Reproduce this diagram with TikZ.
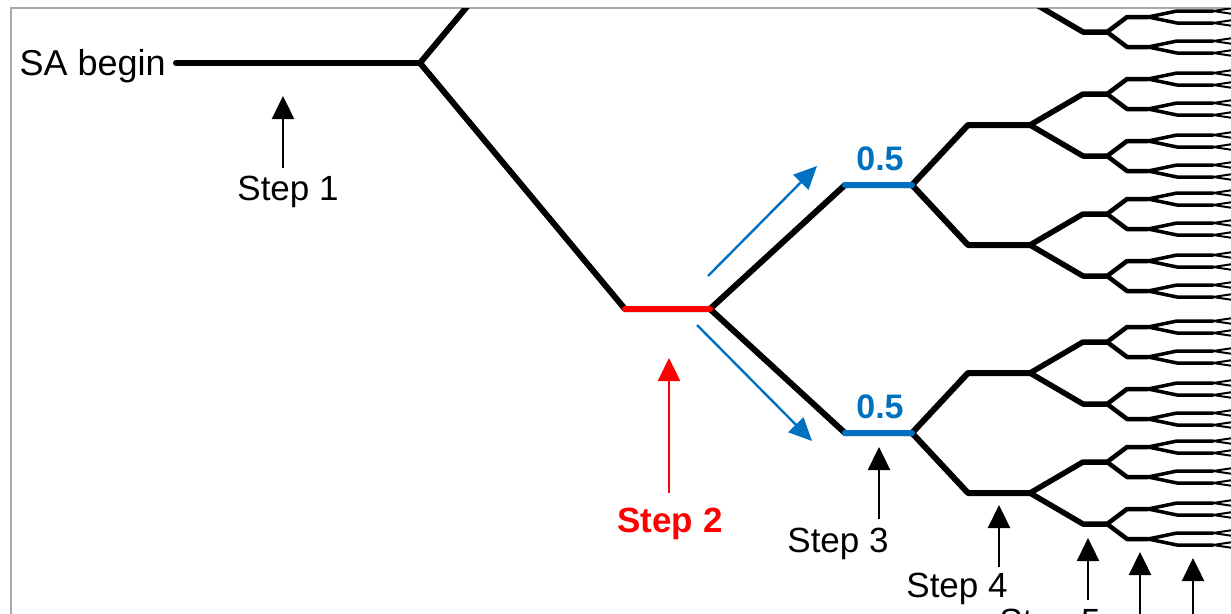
\documentclass[tikz,border=0pt]{standalone}
\usepackage{fontspec}
\setmainfont{Liberation Sans}
\usetikzlibrary{arrows.meta}

\definecolor{saBlue}{RGB}{0,112,192}
\definecolor{frameGray}{RGB}{170,170,170}

% per level: start and end of the flat part, spread of the fork, line width
\def\treexa{{176,625,845,968,1083,1127,1177,1233}}
\def\treexb{{420,710,912,1030,1107,1148,1213,1262}}
\def\treedy{{246,124,60,31,15,6,3,1.5}}
\def\treelw{{6,6,6,6,5.5,4.5,3.5,2}}

% #1 level, #2 y of this branch, #3 y of the parent fork
\newcommand\treenode[3]{%
  \begingroup
  \pgfmathtruncatemacro\lvl{#1}%
  \pgfmathsetmacro\xin{\treexa[\lvl]}%
  \pgfmathsetmacro\xout{\treexb[\lvl]}%
  \pgfmathsetmacro\lw{\treelw[\lvl]}%
  \ifnum\lvl=0
    \draw [branch, line width=\lw pt] (\xin,#2) -- (\xout,#2);
  \else
    \pgfmathsetmacro\xfork{\treexb[\lvl-1]}%
    \draw [branch, line width=\lw pt] (\xfork,#3) -- (\xin,#2) -- (\xout,#2);
  \fi
  \ifnum\lvl<7
    \pgfmathsetmacro\dy{\treedy[\lvl]}%
    \pgfmathsetmacro\yup{#2-\dy}%
    \pgfmathsetmacro\ydn{#2+\dy}%
    \pgfmathtruncatemacro\nxt{\lvl+1}%
    \edef\treestep{\noexpand\treenode{\nxt}{\yup}{#2}%
      \noexpand\treenode{\nxt}{\ydn}{#2}}%
    \treestep
  \fi
  \endgroup}

\begin{document}
\begin{tikzpicture} [x=1pt, y=-1pt,
    branch/.style = {line cap=round, line join=round},
    steparrow/.style = {-{Triangle[length=23pt, width=22pt]}, line width=2.4pt},
    flowarrow/.style = {-{Triangle[length=23pt, width=21pt]}, line width=2.4pt, saBlue},
    steplabel/.style = {anchor=base, inner sep=0pt, font=\fontsize{35}{42}\selectfont},
    problabel/.style = {anchor=base, inner sep=0pt, text=saBlue,
        font=\fontsize{34}{40}\selectfont\bfseries}]
    \clip (0,0) rectangle (1231,613);
    \draw [frameGray, line width=1.5pt] (11,8) rectangle (1260,640);

    \begin{scope}
    \clip (11,8) rectangle (1231,613);
    \treenode{0}{63}{63}
    % the current step and its two successors
    \draw [branch, red, line width=6pt] (625,309) -- (710,309);
    \draw [branch, saBlue, line width=6pt] (845,185) -- (912,185);
    \draw [branch, saBlue, line width=6pt] (845,433) -- (912,433);
    \end{scope}

    \node (sabegin) [anchor=base east, inner sep=0pt,
        font=\fontsize{36}{42}\selectfont] at (166,75) {SA begin};

    \node (p1) [problabel] at (880,170) {0.5};
    \node (p2) [problabel] at (880,418) {0.5};
    \coordinate (up0) at (708,276);
    \coordinate (up1) at (817,166);
    \coordinate (dn0) at (697,325);
    \coordinate (dn1) at (812,441);
    \draw [flowarrow] (up0) -- (up1);
    \draw [flowarrow] (dn0) -- (dn1);

    \node (step1) [steplabel] at (288,200) {Step 1};
    \node (step2) [steplabel, text=red,
        font=\fontsize{35}{42}\selectfont\bfseries] at (670,532) {Step 2};
    \node (step3) [steplabel] at (838,552) {Step 3};
    \node (step4) [steplabel] at (957,597) {Step 4};
    \node (step5) [steplabel] at (1050,633) {Step 5};

    \coordinate (s1a) at (283,168);  \coordinate (s1b) at (283,96);
    \coordinate (s2a) at (669,493);  \coordinate (s2b) at (669,358);
    \coordinate (s3a) at (879,519);  \coordinate (s3b) at (879,447);
    \coordinate (s4a) at (999,567);  \coordinate (s4b) at (999,505);
    \coordinate (s5a) at (1088,600); \coordinate (s5b) at (1088,538);
    \coordinate (s6a) at (1140,640); \coordinate (s6b) at (1140,552);
    \coordinate (s7a) at (1193,640); \coordinate (s7b) at (1193,558);
    \draw [steparrow] (s1a) -- (s1b);
    \draw [steparrow, red] (s2a) -- (s2b);
    \draw [steparrow] (s3a) -- (s3b);
    \draw [steparrow] (s4a) -- (s4b);
    \draw [steparrow] (s5a) -- (s5b);
    \draw [steparrow] (s6a) -- (s6b);
    \draw [steparrow] (s7a) -- (s7b);
\end{tikzpicture}
\end{document}
